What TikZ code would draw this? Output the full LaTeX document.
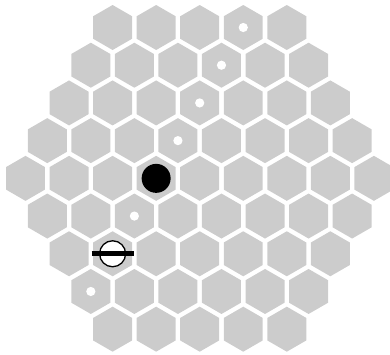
\documentclass[tikz,border=0pt]{standalone}
\usepackage{tikz}
\definecolor{hexgray}{RGB}{204,204,204}
\tikzset{
  hexcell/.style={fill=hexgray},
  smalldot/.style={fill=white},
  blackstone/.style={fill=black},
  whitestone/.style={fill=white,draw=black,line width=1.3pt},
  stonebar/.style={draw=black,line width=4.6pt}
}
\begin{document}
\begin{tikzpicture}[x=1pt,y=-1pt]
\path[use as bounding box] (0,0) rectangle (390,354);
\clip (0,0) rectangle (390,354);
\foreach \r in {0,...,8}{
  \pgfmathtruncatemacro{\off}{abs(\r-4)}
  \pgfmathtruncatemacro{\n}{8-\off}
  \foreach \i in {0,...,\n}{
    \pgfmathsetmacro{\hx}{25.5+\off*21.775+\i*43.55}
    \pgfmathsetmacro{\hy}{27.5+\r*37.71}
    \fill[hexcell] (\hx,\hy) +(90:22.5) -- +(30:22.5) -- +(-30:22.5) -- +(-90:22.5) -- +(-150:22.5) -- +(150:22.5) -- cycle;
  }
}
\coordinate (d0) at (243.25,27.5);
\coordinate (d1) at (221.475,65.21);
\coordinate (d2) at (199.7,102.92);
\coordinate (d3) at (177.925,140.63);
\coordinate (d5) at (134.375,216.05);
\coordinate (d7) at (90.825,291.47);
\coordinate (bs) at (156.15,178.34);
\coordinate (ws) at (112.6,253.76);
\foreach \c in {d0,d1,d2,d3,d5,d7}{
  \fill[smalldot] (\c) circle[radius=4.6];
}
\fill[blackstone] (bs) circle[radius=14.5];
\draw[whitestone] (ws) circle[radius=13];
\draw[stonebar] ([xshift=-21pt]ws) -- ([xshift=21pt]ws);
\end{tikzpicture}
\end{document}
